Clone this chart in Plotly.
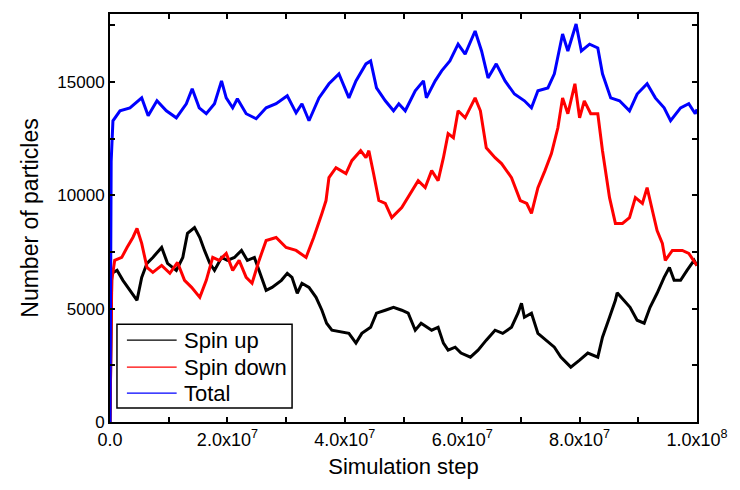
import plotly.graph_objects as go

# x positions in millions of simulation steps
up_x = [0, 0.3, 1.2, 2.2, 3.4, 4.6, 5.4, 6.3, 7.3, 8.8, 9.8, 11.3, 12.4, 13.2, 14.4, 15.3, 16.1, 17.0, 17.8, 19.0,
        20.0, 21.2, 22.4, 23.4, 24.6, 25.8, 26.6, 27.6, 29.2, 30.2, 31.0, 31.9, 32.7, 33.9, 35.1, 36.1, 36.9, 37.8, 39.5, 40.7,
        41.9, 42.9, 44.4, 45.4, 46.9, 48.3, 49.7, 50.8, 52.0, 53.0, 54.8, 55.9, 56.8, 57.6, 58.8, 59.8, 61.4, 62.7, 64.1, 65.6,
        66.9, 68.4, 69.5, 70.1, 70.6, 71.8, 72.9, 74.3, 75.7, 76.8, 78.5, 80.0, 81.4, 83.1, 83.9, 85.1, 86.1, 86.4, 87.6, 88.6,
        89.8, 91.0, 92.0, 93.2, 94.4, 95.3, 96.1, 97.2, 98.3, 99.5, 100]
up_y = [0, 6560, 6690, 6250, 5810, 5370, 6380, 7000, 7260, 7700, 7000, 6690, 7260, 8320, 8580, 8140, 7570, 7000, 6690, 7260,
        7130, 7260, 7570, 7130, 7260, 6380, 5810, 5940, 6250, 6560, 6380, 5680, 6120, 5940, 5500, 4930, 4360, 4050, 3960, 3910,
        3480, 3910, 4180, 4800, 4930, 5060, 4930, 4800, 4050, 4360, 4050, 4180, 3480, 3170, 3300, 3040, 2860, 3170, 3610, 4050,
        3910, 4180, 4800, 5240, 4620, 4800, 3910, 3610, 3300, 2860, 2420, 2730, 3040, 2860, 3740, 4620, 5370, 5700, 5370, 5060,
        4490, 4360, 5060, 5680, 6380, 6820, 6250, 6250, 6690, 7130, 6900]

down_x = [0, 0.3, 0.8, 2.0, 2.9, 3.9, 4.6, 5.4, 6.3, 7.3, 8.8, 10.2, 11.5, 12.7, 13.9, 15.3, 16.4, 17.5, 18.6, 19.8,
          20.9, 22.0, 23.2, 24.2, 25.4, 26.6, 28.3, 30.0, 31.7, 33.4, 34.7, 35.6, 36.1, 36.8, 37.3, 38.5, 40.2, 41.2, 42.7, 43.6,
          44.1, 44.9, 45.8, 46.9, 48.0, 49.7, 51.4, 52.5, 53.7, 54.8, 55.9, 56.8, 57.6, 58.5, 59.3, 60.5, 62.2, 63.1, 64.1, 65.6,
          66.7, 68.4, 69.9, 71.0, 71.8, 72.9, 74.1, 75.2, 76.3, 77.1, 78.0, 79.2, 80.0, 80.8, 81.9, 83.1, 83.9, 85.1, 86.1, 87.3,
          88.5, 89.5, 90.7, 91.5, 92.4, 93.2, 94.1, 94.6, 95.8, 97.5, 98.6, 100]
down_y = [0, 6250, 7130, 7260, 7700, 8140, 8540, 7880, 6820, 6600, 6910, 6560, 7040, 6250, 5940, 5500, 6250, 7260, 7130, 7440,
          6690, 7130, 6380, 6120, 7130, 8010, 8140, 7700, 7570, 7260, 8140, 8890, 9200, 9770, 10780, 11220, 10960, 11530, 11970, 11660,
          11970, 10960, 9770, 9640, 9020, 9460, 10210, 10650, 10340, 11090, 10650, 11660, 12720, 12540, 13730, 13420, 14300, 13730, 12100, 11660,
          11400, 10780, 9770, 9640, 9200, 10340, 11090, 11840, 12980, 14300, 13600, 14920, 13420, 14170, 13600, 13600, 11970, 9900, 8760, 8760,
          9020, 9900, 9640, 10340, 9330, 8450, 7880, 7130, 7570, 7570, 7440, 6900]

total_x = [0, 0.2, 0.5, 1.7, 3.4, 5.4, 6.5, 8.0, 9.6, 11.3, 13.0, 14.0, 15.2, 16.4, 17.8, 19.0, 19.8, 20.9, 21.7, 23.2,
           24.9, 26.6, 28.3, 30.2, 31.7, 32.7, 33.9, 35.6, 37.3, 39.0, 40.7, 41.9, 43.6, 44.4, 45.4, 46.9, 48.3, 49.2, 50.3, 52.0,
           53.4, 53.9, 55.4, 56.5, 57.9, 59.3, 60.5, 62.2, 63.3, 64.4, 65.8, 67.3, 68.9, 70.6, 71.8, 72.9, 74.6, 75.7, 77.1, 78.0,
           79.4, 80.3, 81.7, 83.1, 83.9, 85.3, 86.8, 88.5, 89.8, 91.5, 92.9, 94.4, 95.5, 97.2, 98.6, 99.7, 100]
total_y = [0, 11500, 13290, 13730, 13860, 14300, 13510, 14170, 13730, 13420, 14040, 14700, 13860, 13600, 14040, 15050, 14300, 13860, 14260, 13600,
           13380, 13860, 14040, 14390, 13640, 14040, 13290, 14300, 14920, 15360, 14300, 15050, 15800, 15930, 14740, 14170, 13730, 14040, 13730, 14610,
           15050, 14300, 15050, 15490, 15930, 16670, 16230, 17250, 16370, 15180, 15800, 15050, 14470, 14170, 13860, 14610, 14740, 15360, 17120, 16370,
           17560, 16370, 16670, 16500, 15360, 14300, 14170, 13730, 14470, 14920, 14300, 13860, 13290, 13860, 14040, 13600, 13800]

series_names = ["Spin up", "Spin down", "Total"]
series_colors = ["#000000", "#ff0000", "#0000ff"]

x_tickvals = [0, 2e7, 4e7, 6e7, 8e7, 1e8]
x_ticktext = ["0.0", "2.0x10<sup>7</sup>", "4.0x10<sup>7</sup>", "6.0x10<sup>7</sup>", "8.0x10<sup>7</sup>", "1.0x10<sup>8</sup>"]
y_tickvals = [0, 5000, 10000, 15000]
y_ticktext = ["0", "5000", "10000", "15000"]

FONT = "Liberation Sans, Arial, sans-serif"

def steps(xs):
    return [v * 1e6 for v in xs]

fig = go.Figure()
for xs, ys, name, col in [(up_x, up_y, series_names[0], series_colors[0]),
                          (down_x, down_y, series_names[1], series_colors[1]),
                          (total_x, total_y, series_names[2], series_colors[2])]:
    fig.add_trace(go.Scatter(x=steps(xs), y=ys, mode="lines", name=name,
                             line=dict(color=col, width=3), showlegend=False))

axis_common = dict(showline=True, linecolor="black", linewidth=2, mirror="ticks",
                   ticks="inside", ticklen=5, tickwidth=1.5, tickcolor="black",
                   showgrid=False, zeroline=False)

fig.update_xaxes(range=[0, 1e8], tickvals=x_tickvals, ticktext=x_ticktext,
                 tickfont=dict(family=FONT, size=18, color="black"),
                 minor=dict(dtick=1e7, ticks="inside", ticklen=5, tickwidth=1.5, tickcolor="black", showgrid=False),
                 title=dict(text="Simulation step", font=dict(family=FONT, size=22, color="black"), standoff=10),
                 **axis_common)
fig.update_yaxes(range=[0, 18000], tickvals=y_tickvals, ticktext=y_ticktext,
                 tickfont=dict(family=FONT, size=17, color="black"),
                 minor=dict(dtick=2500, ticks="inside", ticklen=5, tickwidth=1.5, tickcolor="black", showgrid=False),
                 title=dict(text="Number of particles", font=dict(family=FONT, size=23, color="black"), standoff=12),
                 **axis_common)

# Legend drawn as a framed box with line samples and text labels (paper coordinates)
L, R, B, T = 110, 700, 422, 13
def px(x):
    return (x - L) / (R - L)
def py(y):
    return (B - y) / (B - T)

fig.add_shape(type="rect", xref="paper", yref="paper",
              x0=px(117), x1=px(293), y0=py(408), y1=py(324),
              line=dict(color="black", width=1.5), fillcolor="white", layer="above")
row_y = [340, 367, 393]
for name, col, ry in zip(series_names, series_colors, row_y):
    fig.add_shape(type="line", xref="paper", yref="paper",
                  x0=px(127), x1=px(177), y0=py(ry), y1=py(ry),
                  line=dict(color=col, width=1.3), layer="above")
    fig.add_annotation(xref="paper", yref="paper", x=px(182), y=py(ry),
                       text=name, showarrow=False, xanchor="left", yanchor="middle",
                       font=dict(family=FONT, size=22, color="black"))

fig.update_layout(
    width=740, height=490,
    margin=dict(l=110, r=40, t=13, b=68),
    paper_bgcolor="white", plot_bgcolor="white",
    showlegend=False,
)

fig.write_html("out.html")
